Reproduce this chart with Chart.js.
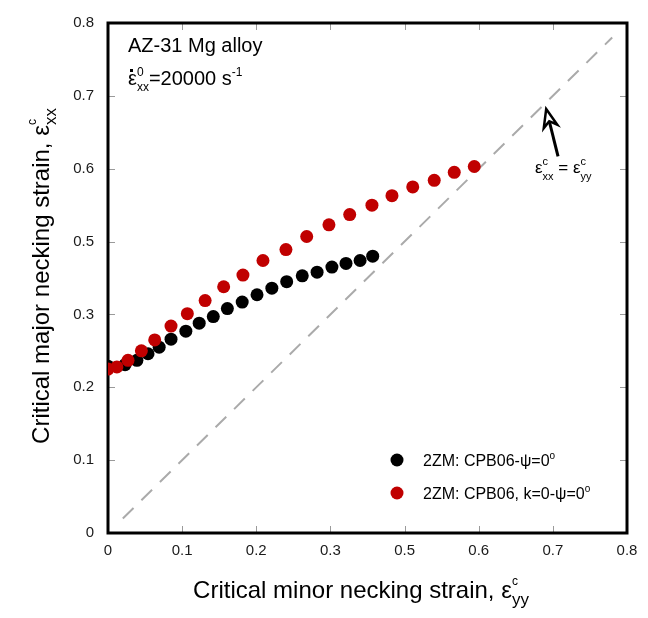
<!DOCTYPE html>
<html><head><meta charset="utf-8">
<script src="https://cdn.jsdelivr.net/npm/chart.js@4.4.1/dist/chart.umd.min.js"></script>
<style>html,body{margin:0;padding:0;background:#fff;}</style>
</head><body>
<canvas id="c" width="648" height="618"></canvas>
<script>
// ---- data (underlying linear axis positions; tick labels as printed) ----
const TICK_LABELS = ['0','0.1','0.2','0.3','0.5','0.6','0.7','0.8'];
const SERIES_NAMES = ['2ZM: CPB06-\u03C8=0\u00B0', '2ZM: CPB06, k=0-\u03C8=0\u00B0'];
const BLACK_X = [0, 0.023, 0.039, 0.054, 0.069, 0.085, 0.105, 0.123, 0.142, 0.161, 0.181, 0.201, 0.221, 0.241, 0.262, 0.282, 0.302, 0.321, 0.340, 0.357];
const BLACK_Y = [0.229, 0.231, 0.237, 0.246, 0.255, 0.266, 0.277, 0.288, 0.297, 0.308, 0.317, 0.327, 0.336, 0.345, 0.353, 0.358, 0.365, 0.370, 0.374, 0.380];
const RED_X = [0, 0.012, 0.027, 0.045, 0.063, 0.085, 0.107, 0.131, 0.156, 0.182, 0.209, 0.240, 0.268, 0.298, 0.326, 0.356, 0.383, 0.411, 0.440, 0.467, 0.494];
const RED_Y = [0.225, 0.228, 0.237, 0.250, 0.265, 0.284, 0.301, 0.319, 0.338, 0.354, 0.374, 0.389, 0.407, 0.423, 0.437, 0.450, 0.463, 0.475, 0.484, 0.495, 0.503];
const DIAG_X = [0.02, 0.68];
const DIAG_Y = [0.02, 0.68];

const FONT = '"Liberation Sans", Arial, Helvetica, sans-serif';
const fnt = s => s + 'px ' + FONT;

function richWidth(ctx, segs) {
  let w = 0;
  for (const s of segs) { ctx.font = fnt(s.size); if (s.adv !== false) w += ctx.measureText(s.t).width; }
  return w;
}
function drawRich(ctx, segs, x, y, align) {
  const w = richWidth(ctx, segs);
  let cx = align === 'center' ? x - w / 2 : (align === 'right' ? x - w : x);
  ctx.textAlign = 'left'; ctx.textBaseline = 'alphabetic';
  const pos = [];
  for (const s of segs) {
    ctx.font = fnt(s.size);
    ctx.fillText(s.t, cx, y + (s.dy || 0));
    pos.push(cx);
    if (s.adv !== false) cx += ctx.measureText(s.t).width;
  }
  return pos;
}
function nameSegs(name, size) {
  const parts = name.split('\u00B0');
  const segs = [];
  parts.forEach((p, i) => {
    if (p) segs.push({t: p, size: size});
    if (i < parts.length - 1) segs.push({t: 'o', size: Math.round(size * 0.62), dy: -Math.round(size * 0.45)});
  });
  return segs;
}

const deco = {
  id: 'deco',
  beforeDatasetsDraw(chart) {
    const {ctx, chartArea: a, scales: {x, y}} = chart;
    ctx.save();
    ctx.strokeStyle = '#9a9a9a'; ctx.lineWidth = 1;
    const L = 7;
    for (let i = 1; i < TICK_LABELS.length - 1; i++) {
      const v = i / 10;
      const px = Math.round(x.getPixelForValue(v)) + 0.5;
      const py = Math.round(y.getPixelForValue(v)) + 0.5;
      ctx.beginPath();
      ctx.moveTo(px, a.bottom); ctx.lineTo(px, a.bottom - L);
      ctx.moveTo(px, a.top); ctx.lineTo(px, a.top + L);
      ctx.moveTo(a.left, py); ctx.lineTo(a.left + L, py);
      ctx.moveTo(a.right, py); ctx.lineTo(a.right - L, py);
      ctx.stroke();
    }
    ctx.strokeStyle = '#000'; ctx.lineWidth = 3;
    ctx.strokeRect(a.left, a.top, a.right - a.left, a.bottom - a.top);
    ctx.restore();
  },
  afterDraw(chart) {
    const {ctx, chartArea: a, scales: {x, y}} = chart;
    ctx.save();
    ctx.fillStyle = '#000';
    drawRich(ctx, [
      {t: 'Critical minor necking strain, \u03B5', size: 24},
      {t: 'c', size: 12, dy: -13, adv: false},
      {t: 'yy', size: 17, dy: 7}
    ], 361, 598, 'center');
    ctx.save();
    ctx.translate(49, 276);
    ctx.rotate(-Math.PI / 2);
    drawRich(ctx, [
      {t: 'Critical major necking strain, \u03B5', size: 24},
      {t: 'c', size: 12, dy: -13, adv: false},
      {t: 'xx', size: 17, dy: 7}
    ], 0, 0, 'center');
    ctx.restore();

    drawRich(ctx, [{t: 'AZ-31 Mg alloy', size: 20}], a.left + 20, 52, 'left');
    const p = drawRich(ctx, [
      {t: '\u03B5', size: 20},
      {t: '0', size: 12, dy: -9, adv: false},
      {t: 'xx', size: 12, dy: 6},
      {t: '=20000 s', size: 20},
      {t: '-1', size: 12, dy: -9}
    ], a.left + 20, 85, 'left');
    ctx.fillRect(p[0] + 2, 69, 3, 3);

    drawRich(ctx, [
      {t: '\u03B5', size: 17},
      {t: 'c', size: 11, dy: -8, adv: false},
      {t: 'xx', size: 11, dy: 7},
      {t: ' = ', size: 17},
      {t: '\u03B5', size: 17},
      {t: 'c', size: 11, dy: -8, adv: false},
      {t: 'yy', size: 11, dy: 7}
    ], 535, 173, 'left');

    const tip = {x: x.getPixelForValue(0.591), y: y.getPixelForValue(0.582)};
    const tail = {x: x.getPixelForValue(0.607), y: y.getPixelForValue(0.517)};
    const ang = Math.atan2(tip.y - tail.y, tip.x - tail.x);
    const hl = 18, hw = 7;
    const bx = tip.x - hl * Math.cos(ang), by = tip.y - hl * Math.sin(ang);
    const nx = -Math.sin(ang), ny = Math.cos(ang);
    const notch = {x: tip.x - hl * 0.7 * Math.cos(ang), y: tip.y - hl * 0.7 * Math.sin(ang)};
    ctx.strokeStyle = '#000'; ctx.lineWidth = 3; ctx.lineJoin = 'miter';
    ctx.beginPath(); ctx.moveTo(tail.x, tail.y); ctx.lineTo(notch.x, notch.y); ctx.stroke();
    ctx.lineWidth = 2.5;
    ctx.beginPath();
    ctx.moveTo(tip.x, tip.y);
    ctx.lineTo(bx + nx * hw, by + ny * hw);
    ctx.lineTo(notch.x, notch.y);
    ctx.lineTo(bx - nx * hw, by - ny * hw);
    ctx.closePath();
    ctx.fillStyle = '#fff'; ctx.fill(); ctx.stroke();

    const cols = ['#000000', '#c00000'];
    const ly = [460, 493];
    SERIES_NAMES.forEach((n, i) => {
      ctx.fillStyle = cols[i];
      ctx.beginPath(); ctx.arc(397, ly[i], 6.5, 0, Math.PI * 2); ctx.fill();
      ctx.fillStyle = '#000';
      drawRich(ctx, nameSegs(n, 16), 423, ly[i] + 6, 'left');
    });
    ctx.restore();
  }
};

const tickOpts = (pad) => ({
  stepSize: 0.1, autoSkip: false, maxRotation: 0, padding: pad, color: '#1a1a1a',
  font: {size: 15, family: FONT},
  callback: v => TICK_LABELS[Math.round(v * 10)]
});

new Chart(document.getElementById('c'), {
  type: 'scatter',
  data: {
    datasets: [
      {label: SERIES_NAMES[0], data: BLACK_X.map((v, i) => ({x: v, y: BLACK_Y[i]})),
       backgroundColor: '#000000', borderWidth: 0, pointRadius: 6.5, order: 2},
      {label: SERIES_NAMES[1], data: RED_X.map((v, i) => ({x: v, y: RED_Y[i]})),
       backgroundColor: '#c00000', borderWidth: 0, pointRadius: 6.5, order: 1},
      {label: 'diag', data: DIAG_X.map((v, i) => ({x: v, y: DIAG_Y[i]})), showLine: true,
       borderColor: '#aaaaaa', borderWidth: 2, borderDash: [15, 11], pointRadius: 0, order: 3}
    ]
  },
  options: {
    responsive: false, animation: false,
    layout: {padding: {top: 17, right: 21, left: 0, bottom: 0}},
    plugins: {legend: {display: false}, tooltip: {enabled: false}},
    scales: {
      x: {type: 'linear', min: 0, max: 0.7, afterFit: s => { s.height = 85; },
          grid: {display: false, drawTicks: false}, border: {display: false}, ticks: tickOpts(9)},
      y: {type: 'linear', min: 0, max: 0.7, afterFit: s => { s.width = 108; },
          grid: {display: false, drawTicks: false}, border: {display: false}, ticks: tickOpts(14)}
    }
  },
  plugins: [deco]
});
</script>
</body></html>
